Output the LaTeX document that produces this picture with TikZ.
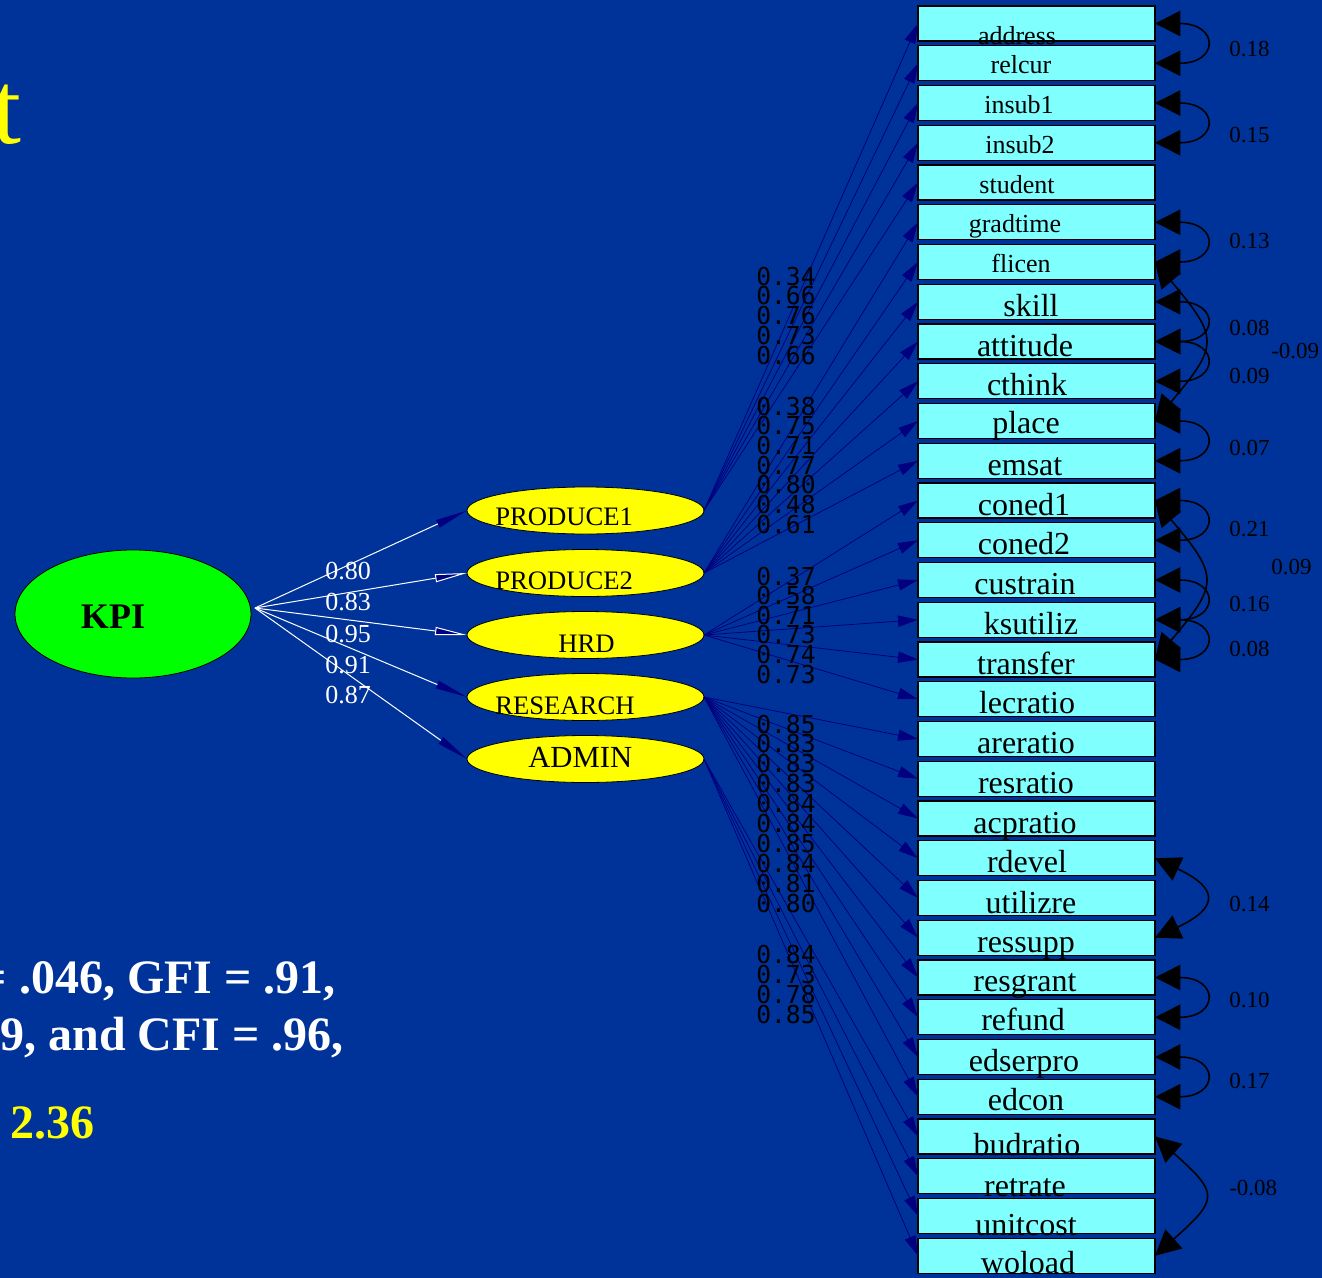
\documentclass[tikz,border=0pt]{standalone}
\usepackage{fontspec}
\setmainfont{Liberation Serif}
\newfontfamily\monof{DejaVu Sans Mono}
\usetikzlibrary{arrows.meta,shapes.geometric}
\definecolor{bg}{RGB}{0,51,153}
\definecolor{boxfill}{RGB}{128,255,255}
\definecolor{navyc}{RGB}{0,0,128}
\definecolor{yel}{RGB}{255,255,0}
\definecolor{grn}{RGB}{0,255,0}
\begin{document}
\begin{tikzpicture}[x=0.75pt,y=-0.75pt,
  box/.style={draw=black,line width=1pt,fill=boxfill,minimum width=177.75pt,minimum height=26.25pt,inner sep=0pt,outer sep=0pt},
  boxtext/.style={inner sep=0pt,text=black},
  factor/.style={ellipse,draw=black,line width=0.6pt,fill=yel,minimum width=177.75pt,minimum height=35.25pt,inner sep=0pt,outer sep=0pt},
  ftext/.style={inner sep=0pt,anchor=base west,text=black,font=\fontsize{20}{20}\selectfont},
  ld/.style={draw=navyc,line width=0.6pt,-{Triangle[length=15pt,width=8.5pt]}},
  hl/.style={draw=white,line width=0.75pt},
  tipfill/.style={-{Triangle[length=24pt,width=6pt,color=navyc]}},
  tipopen/.style={-{Triangle[length=24pt,width=6pt,fill=navyc]}},
  cov/.style={draw=black,line width=1.2pt,{Triangle[length=19pt,width=19pt]}-{Triangle[length=19pt,width=19pt]}},
  covlbl/.style={inner sep=0pt,anchor=base west,text=black,font=\fontsize{17.25}{17.25}\selectfont},
  kpilbl/.style={inner sep=0pt,anchor=base west,text=white,font=\fontsize{19.5}{19.5}\selectfont},
  monolbl/.style={inner sep=0pt,anchor=base west,text=black,font=\monof\fontsize{18.5}{18.5}\selectfont},
  bigtxt/.style={inner sep=0pt,text=white,font=\bfseries\fontsize{36}{36}\selectfont}
]
\useasboundingbox (0,0) rectangle (1322,1278);
\clip (0,0) rectangle (1322,1278);
\fill[bg] (0,0) rectangle (1322,1278);

% title fragment and fit text
\node[inner sep=0pt,anchor=base east,text=yel,font=\fontsize{78}{78}\selectfont] (title) at (22,143) {t};
\node[bigtxt,anchor=base east] (fit1) at (336,993) {= .046, GFI = .91,};
\node[bigtxt,anchor=base east] (fit2) at (344,1050) {9, and CFI = .96,};
\node[bigtxt,anchor=base west,text=yel,font=\bfseries\fontsize{36}{36}\selectfont] (chi) at (10,1138) {2.36};

% observed variables
\foreach \i/\t/\tx/\dy/\fs in {
  0/address/1017/38/19.5, 1/relcur/1021/28/19.5, 2/insub1/1019/28/19.5, 3/insub2/1020/28/19.5,
  4/student/1017/28/19.5, 5/gradtime/1015/28/19.5, 6/flicen/1021/28/19.5, 7/skill/1031/32/24,
  8/attitude/1025/32/24, 9/cthink/1027/32/24, 10/place/1026/30/24, 11/emsat/1025/32/24,
  12/coned1/1024/32/24, 13/coned2/1024/32/24, 14/custrain/1025/32/24, 15/ksutiliz/1031/32/24,
  16/transfer/1026/32/24, 17/lecratio/1027/32/24, 18/areratio/1026/32/24, 19/resratio/1026/32/24,
  20/acpratio/1025/32/24, 21/rdevel/1027/32/24, 22/utilizre/1031/33/24, 23/ressupp/1026/32/24,
  24/resgrant/1025/31/24, 25/refund/1023/31/24, 26/edserpro/1024/32/24, 27/edcon/1026/31/24,
  28/budratio/1027/36/24, 29/retrate/1025/38/24, 30/unitcost/1026/37/24, 31/woload/1028/35/24}{
  \node[box] (b\i) at (1036.5,{23.5+39.75*\i}) {};
  \node[boxtext,anchor=base,font=\fontsize{\fs}{\fs}\selectfont] (t\i) at (\tx,{6+39.75*\i+\dy}) {\t};
}

% latent variables
\node[ellipse,draw=black,line width=0.6pt,fill=grn,minimum width=177pt,minimum height=96pt,inner sep=0pt] (kpi) at (133,614) {};
\node[inner sep=0pt,text=black,font=\bfseries\fontsize{27}{27}\selectfont] (kpit) at (113,617) {KPI};
\node[factor] (p1) at (585.5,510.5) {};
\node[factor] (p2) at (585.5,573) {};
\node[factor] (hrd) at (585.5,635) {};
\node[factor] (res) at (585.5,697) {};
\node[factor] (adm) at (585.5,759) {};
\node[ftext] (p1t) at (495,525) {PRODUCE1};
\node[ftext] (p2t) at (495,589) {PRODUCE2};
\node[ftext] (hrdt) at (558,652) {HRD};
\node[ftext] (rest) at (495,714) {RESEARCH};
\node[ftext,font=\fontsize{23}{23}\selectfont] (admt) at (528,767) {ADMIN};

% second-order paths
\coordinate (kpiout) at (255,608);
\draw[hl,tipfill] (kpiout) -- (p1.west);
\draw[hl,tipopen] (kpiout) -- (p2.west);
\draw[hl,tipopen] (kpiout) -- (hrd.west);
\draw[hl,tipfill] (kpiout) -- (res.west);
\draw[hl,tipfill] (kpiout) -- (adm.west);
\node[kpilbl] (k1) at (325,579) {0.80};
\node[kpilbl] (k2) at (325,610) {0.83};
\node[kpilbl] (k3) at (325,642) {0.95};
\node[kpilbl] (k4) at (325,673) {0.91};
\node[kpilbl] (k5) at (325,703) {0.87};

% first-order paths
\foreach \j in {0,...,4} \draw[ld] (p1.east) -- (b\j.west);
\foreach \j in {5,...,11} \draw[ld] (p2.east) -- (b\j.west);
\foreach \j in {12,...,17} \draw[ld] (hrd.east) -- (b\j.west);
\foreach \j in {18,...,27} \draw[ld] (res.east) -- (b\j.west);
\foreach \j in {28,...,31} \draw[ld] (adm.east) -- (b\j.west);

% loading labels
\foreach \v [count=\k from 0] in {0.34,0.66,0.76,0.73,0.66}
  \node[monolbl] (ga\k) at (756,{285+19.8*\k}) {\v};
\foreach \v [count=\k from 0] in {0.38,0.75,0.71,0.77,0.80,0.48,0.61}
  \node[monolbl] (gb\k) at (756,{415+19.7*\k}) {\v};
\foreach \v [count=\k from 0] in {0.37,0.58,0.71,0.73,0.74,0.73}
  \node[monolbl] (gc\k) at (756,{585+19.6*\k}) {\v};
\foreach \v [count=\k from 0] in {0.85,0.83,0.83,0.83,0.84,0.84,0.85,0.84,0.81,0.80}
  \node[monolbl] (gd\k) at (756,{733+19.9*\k}) {\v};
\foreach \v [count=\k from 0] in {0.84,0.73,0.78,0.85}
  \node[monolbl] (ge\k) at (756,{963+20*\k}) {\v};

% covariances
\draw[cov] (b0.east) .. controls +(64,0) and +(64,0) .. (b1.east);
\draw[cov] (b2.east) .. controls +(64,0) and +(64,0) .. (b3.east);
\draw[cov] (b5.east) .. controls +(64,0) and +(64,0) .. (b6.east);
\draw[cov] (b7.east) .. controls +(64,0) and +(64,0) .. (b8.east);
\draw[cov] (b8.east) .. controls +(64,0) and +(64,0) .. (b9.east);
\draw[cov] (b6.east) .. controls +(64,76) and +(64,-76) .. (b10.east);
\draw[cov] (b10.east) .. controls +(64,0) and +(64,0) .. (b11.east);
\draw[cov] (b12.east) .. controls +(64,0) and +(64,0) .. (b13.east);
\draw[cov] (b12.east) .. controls +(64,76) and +(64,-76) .. (b16.east);
\draw[cov] (b14.east) .. controls +(64,0) and +(64,0) .. (b15.east);
\draw[cov] (b15.east) .. controls +(64,0) and +(64,0) .. (b16.east);
\draw[cov] (b21.east) .. controls +(64,30) and +(64,-30) .. (b23.east);
\draw[cov] (b24.east) .. controls +(64,0) and +(64,0) .. (b25.east);
\draw[cov] (b26.east) .. controls +(64,0) and +(64,0) .. (b27.east);
\draw[cov] (b28.east) .. controls +(64,57) and +(64,-57) .. (b31.east);

\node[covlbl] (c1) at (1229,56) {0.18};
\node[covlbl] (c2) at (1229,142) {0.15};
\node[covlbl] (c3) at (1229,248) {0.13};
\node[covlbl] (c4) at (1229,335) {0.08};
\node[covlbl] (c5) at (1271,358) {-0.09};
\node[covlbl] (c6) at (1229,383) {0.09};
\node[covlbl] (c7) at (1229,455) {0.07};
\node[covlbl] (c8) at (1229,536) {0.21};
\node[covlbl] (c9) at (1271,574) {0.09};
\node[covlbl] (c10) at (1229,611) {0.16};
\node[covlbl] (c11) at (1229,656) {0.08};
\node[covlbl] (c12) at (1229,911) {0.14};
\node[covlbl] (c13) at (1229,1007) {0.10};
\node[covlbl] (c14) at (1229,1088) {0.17};
\node[covlbl] (c15) at (1229,1195) {-0.08};
\end{tikzpicture}
\end{document}
